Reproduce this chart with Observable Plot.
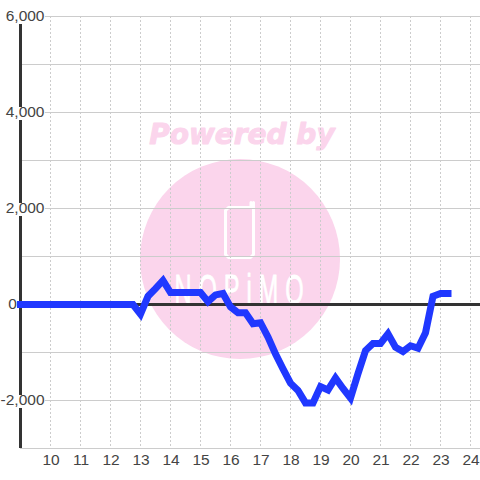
<!DOCTYPE html>
<html><head><meta charset="utf-8">
<script src="https://cdn.jsdelivr.net/npm/d3@7"></script>
<script src="https://cdn.jsdelivr.net/npm/@observablehq/plot@0.6"></script>
<style>html,body{margin:0;padding:0;background:#fff}svg{display:block}</style>
</head><body><div id="chart"></div>
<script>
const hours = [9,9.25,9.5,9.75,10,10.25,10.5,10.75,11,11.25,11.5,11.75,12,12.25,12.5,12.75,13,13.25,13.5,13.75,14,14.25,14.5,14.75,15,15.25,15.5,15.75,16,16.25,16.5,16.75,17,17.25,17.5,17.75,18,18.25,18.5,18.75,19,19.25,19.5,19.75,20,20.25,20.5,20.75,21,21.25,21.5,21.75,22,22.25,22.5,22.75,23,23.25];
const values = [0,0,0,0,0,0,0,0,0,0,0,0,0,0,0,0,-200,170,330,500,250,250,250,250,250,60,200,230,-50,-170,-170,-400,-380,-680,-1030,-1340,-1640,-1790,-2050,-2050,-1710,-1780,-1530,-1750,-1950,-1440,-960,-810,-810,-610,-890,-980,-860,-910,-590,170,230,230];
const xTicks = [10,11,12,13,14,15,16,17,18,19,20,21,22,23,24];
const yGridLabelled = [6000,4000,2000,-2000];
const yGridPlain = [5000,3000,1000,-1000,-3000];
const yLabels = [6000,4000,2000,-2000];
const axisTop = [5833,3833,1833,-2167];
const axisBottom = [4104,2104,-1896,-3000];
const phoneX = [16.767,16.767,16.667,15.933,15.833,15.833,15.933,16.683,16.683];
const phoneY = [2125,1042,979,979,1042,1958,2021,2021,2125];
const FONT = '"Liberation Sans", Arial, sans-serif';
const fmt = d => d3.format(",")(d).replace("\u2212", "-");
const plot = Plot.plot({
  width: 480, height: 480,
  marginTop: 16, marginBottom: 32, marginLeft: 0, marginRight: 0,
  x: {domain: [8.33333, 24.33333], axis: null},
  y: {domain: [-3000, 6000], axis: null},
  style: {background: "#fff", fontFamily: FONT, overflow: "visible"},
  marks: [
    Plot.dot([{x: 16.317, y: 948}], {x: "x", y: "y", r: 100, fill: "#fbd5ec", stroke: "none"}),
    Plot.line(phoneX.map((x, i) => ({x, y: phoneY[i]})), {x: "x", y: "y", stroke: "#fff", strokeWidth: 3, strokeLinejoin: "round", strokeLinecap: "round"}),
    Plot.text(["NOPiMO"], {x: () => 16.4, y: () => 290, text: d => d, fill: "#fff", stroke: "#fff", strokeWidth: 0.8, fontSize: 43, fontFamily: '"Liberation Sans", sans-serif', textAnchor: "middle", className: "logo"}),
    Plot.text(["Powered by"], {x: () => 16.38, y: () => 3540, text: d => d, fill: "#fbd5ec", stroke: "#fbd5ec", strokeWidth: 1, fontSize: 28, fontWeight: "bold", fontStyle: "italic", fontFamily: '"DejaVu Sans", sans-serif', textAnchor: "middle"}),
    Plot.ruleY(yGridPlain, {y: d => d, x1: () => 9, x2: () => 24.33333, stroke: "#ccc", strokeWidth: 1}),
    Plot.ruleY(yGridLabelled, {y: d => d, x1: () => 9.83, x2: () => 24.33333, stroke: "#ccc", strokeWidth: 1}),
    Plot.ruleX(xTicks, {x: d => d, stroke: "#ccc", strokeWidth: 1, strokeDasharray: "2,2"}),
    Plot.ruleY([0], {y: d => d, x1: () => 9, x2: () => 24.33333, stroke: "#333", strokeWidth: 3}),
    Plot.ruleX(axisTop, {x: () => 9, y1: d => d, y2: (d, i) => axisBottom[i], stroke: "#333", strokeWidth: 3}),
    Plot.line(hours.map((x, i) => ({x, y: values[i]})), {x: "x", y: "y", stroke: "#2038ff", strokeWidth: 7, strokeLinejoin: "miter", strokeLinecap: "square", strokeMiterlimit: 4}),
    Plot.text(yLabels, {x: () => 9.8, y: d => d, text: d => fmt(d), textAnchor: "end", fill: "#444", fontSize: 15.5}),
    Plot.text([0], {x: () => 8.88, y: d => d, text: d => fmt(d), textAnchor: "end", fill: "#444", fontSize: 15.5}),
    Plot.text(xTicks, {x: d => d, y: () => -3000, dy: 12, dx: 0.5, text: d => String(d), fill: "#444", fontSize: 15.5})
  ]
});
const logo = d3.select(plot).select("g.logo text");
logo.attr("transform", logo.attr("transform") + " scale(0.55,1)").style("letter-spacing", "12.5px");
document.getElementById("chart").appendChild(plot);
</script></body></html>
